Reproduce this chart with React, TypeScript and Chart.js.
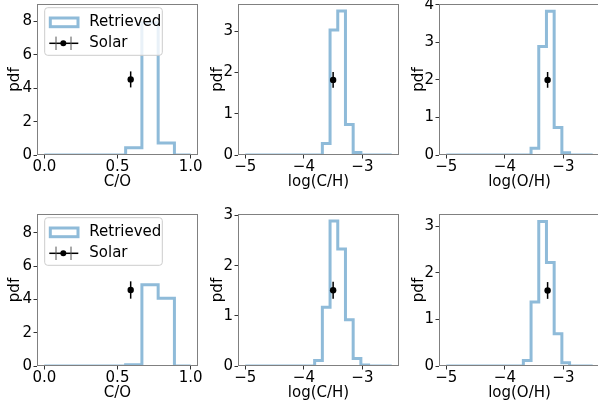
import React, { useEffect, useRef } from "react";
import { Chart, registerables } from "chart.js";

Chart.register(...registerables);

const FONT_FAMILY = '"DejaVu Sans", "Liberation Sans", sans-serif';
const HIST_COLOR = "#8fbbd9";
const SPINE_COLOR = "#808080";
const TICK_COLOR = "#333333";

// ---------------- data ----------------
const CO_EDGES = [0, 0.1111, 0.2222, 0.3333, 0.4444, 0.5556, 0.6667, 0.7778, 0.8889, 1.0];
const LOG_EDGES = [
  -5.0, -4.8684, -4.7368, -4.6053, -4.4737, -4.3421, -4.2105, -4.0789, -3.9474, -3.8158,
  -3.6842, -3.5526, -3.4211, -3.2895, -3.1579, -3.0263, -2.8947, -2.7632, -2.6316, -2.5,
];

const CO_PDF_TOP = [0, 0, 0, 0, 0, 0.43, 7.92, 0.72, 0];
const CH_PDF_TOP = [0, 0, 0, 0, 0, 0, 0, 0, 0, 0, 0.28, 3.03, 3.49, 0.74, 0.06, 0, 0, 0, 0];
const OH_PDF_TOP = [0, 0, 0, 0, 0, 0, 0, 0, 0, 0, 0, 0.18, 2.89, 3.83, 0.73, 0.06, 0, 0, 0];
const CO_PDF_BOTTOM = [0, 0, 0, 0, 0, 0.08, 4.88, 4.07, 0];
const CH_PDF_BOTTOM = [0, 0, 0, 0, 0, 0, 0, 0, 0, 0.11, 1.17, 2.89, 2.33, 0.92, 0.15, 0.02, 0, 0, 0];
const OH_PDF_BOTTOM = [0, 0, 0, 0, 0, 0, 0, 0, 0, 0, 0.12, 1.37, 3.1, 2.22, 0.69, 0.07, 0, 0, 0];

const SOLAR_X = [0.59, -3.5, -3.27];
const SOLAR_Y_TOP = [4.53, 1.82, 2.0];
const SOLAR_YERR_TOP = [0.48, 0.19, 0.21];
const SOLAR_Y_BOTTOM = [4.56, 1.51, 1.62];
const SOLAR_YERR_BOTTOM = [0.52, 0.17, 0.18];

const X_LABELS = ["C/O", "log(C/H)", "log(O/H)"];
const Y_LABEL = "pdf";
const LEGEND_LABELS = ["Retrieved", "Solar"];

const CO_X_TICKS = [0, 0.5, 1.0];
const LOG_X_TICKS = [-5, -4, -3];
const Y_TICKS_TOP = [[0, 2, 4, 6, 8], [0, 1, 2, 3], [0, 1, 2, 3, 4]];
const Y_TICKS_BOTTOM = [[0, 2, 4, 6, 8], [0, 1, 2, 3], [0, 1, 2, 3]];
const X_RANGES = [[-0.05, 1.05], [-5.125, -2.375], [-5.125, -2.375]];
const Y_MAX_TOP = [9.05, 3.66, 4.02];
const Y_MAX_BOTTOM = [9.12, 3.03, 3.26];

// ---------------- layout ----------------
const BOX_LEFT = [37, 238, 439];
const BOX_TOP = [3, 214];
const BOX_W = 161;
const BOX_H = 152;
const PAD_L = 37;
const PAD_T_ROW = [3, 14];
const PAD_R = 14;
const PAD_B = 45;
const CANVAS_W = PAD_L + BOX_W + PAD_R;
const YTITLE_PAD = [6, 7.7, 8.3];

const framePlugin = {
  id: "frame",
  afterDatasetsDraw(chart: any) {
    const { ctx, chartArea: a } = chart;
    ctx.save();
    ctx.strokeStyle = SPINE_COLOR;
    ctx.lineWidth = 1;
    ctx.strokeRect(a.left + 0.5, a.top + 0.5, a.right - a.left - 1, a.bottom - a.top - 1);
    ctx.restore();
  },
};

function makeLegendPlugin(show: boolean) {
  return {
    id: "mplLegend",
    afterDraw(chart: any) {
      if (!show) return;
      const { ctx, chartArea: a } = chart;
      const bx = a.left + 7.7;
      const by = a.top + 3.7;
      const bw = 117.6;
      const bh = 47.6;
      const r = 3;
      ctx.save();
      ctx.beginPath();
      ctx.moveTo(bx + r, by);
      ctx.arcTo(bx + bw, by, bx + bw, by + bh, r);
      ctx.arcTo(bx + bw, by + bh, bx, by + bh, r);
      ctx.arcTo(bx, by + bh, bx, by, r);
      ctx.arcTo(bx, by, bx + bw, by, r);
      ctx.closePath();
      ctx.fillStyle = "rgba(255,255,255,0.8)";
      ctx.fill();
      ctx.strokeStyle = "#cccccc";
      ctx.lineWidth = 1;
      ctx.stroke();

      // Retrieved patch
      ctx.strokeStyle = HIST_COLOR;
      ctx.lineWidth = 3;
      ctx.lineJoin = "miter";
      ctx.strokeRect(bx + 5.6, by + 10.3, 27.7, 8.7);

      // Solar errorbar symbol
      const ly = by + 35.6;
      ctx.strokeStyle = "#000";
      ctx.lineWidth = 1.5;
      ctx.beginPath();
      ctx.moveTo(bx + 4.6, ly);
      ctx.lineTo(bx + 33.6, ly);
      ctx.stroke();
      ctx.strokeStyle = "#555";
      ctx.lineWidth = 1;
      ctx.beginPath();
      ctx.moveTo(bx + 11.3, ly - 6.7);
      ctx.lineTo(bx + 11.3, ly + 6.7);
      ctx.moveTo(bx + 26.3, ly - 6.7);
      ctx.lineTo(bx + 26.3, ly + 6.7);
      ctx.stroke();
      ctx.fillStyle = "#000";
      ctx.beginPath();
      ctx.arc(bx + 18.6, ly, 3, 0, Math.PI * 2);
      ctx.fill();

      ctx.fillStyle = "#000";
      ctx.font = `15px ${FONT_FAMILY}`;
      ctx.textBaseline = "middle";
      ctx.textAlign = "left";
      ctx.fillText(LEGEND_LABELS[0], bx + 44.6, by + 14.3);
      ctx.fillText(LEGEND_LABELS[1], bx + 44.6, ly);
      ctx.restore();
    },
  };
}

function buildConfig(col: number, row: number): any {
  const edges = col === 0 ? CO_EDGES : LOG_EDGES;
  const values = [
    [CO_PDF_TOP, CH_PDF_TOP, OH_PDF_TOP],
    [CO_PDF_BOTTOM, CH_PDF_BOTTOM, OH_PDF_BOTTOM],
  ][row][col];
  const pts: { x: number; y: number }[] = [{ x: edges[0], y: 0 }];
  values.forEach((v, i) => {
    pts.push({ x: edges[i], y: v });
    pts.push({ x: edges[i + 1], y: v });
  });
  pts.push({ x: edges[edges.length - 1], y: 0 });

  const sx = SOLAR_X[col];
  const sy = row === 0 ? SOLAR_Y_TOP[col] : SOLAR_Y_BOTTOM[col];
  const se = row === 0 ? SOLAR_YERR_TOP[col] : SOLAR_YERR_BOTTOM[col];
  const xTicks = col === 0 ? CO_X_TICKS : LOG_X_TICKS;
  const yTicks = row === 0 ? Y_TICKS_TOP[col] : Y_TICKS_BOTTOM[col];
  const yMax = row === 0 ? Y_MAX_TOP[col] : Y_MAX_BOTTOM[col];
  const fmtX = (v: number) =>
    col === 0 ? Number(v).toFixed(1) : v < 0 ? "\u2212" + Math.abs(v) : String(v);
  const fmtY = (v: number) => (v < 0 ? "\u2212" + Math.abs(v) : String(v));

  const zeroPad = (s: any) => {
    s.paddingLeft = 0;
    s.paddingRight = 0;
    s.paddingTop = 0;
    s.paddingBottom = 0;
  };

  return {
    type: "scatter",
    data: {
      datasets: [
        {
          label: LEGEND_LABELS[1],
          data: [{ x: sx, y: sy }],
          pointRadius: 3.2,
          pointBackgroundColor: "#000",
          pointBorderColor: "#000",
          pointBorderWidth: 0,
          order: 0,
        },
        {
          label: LEGEND_LABELS[1] + " error",
          data: [
            { x: sx, y: sy - se },
            { x: sx, y: sy + se },
          ],
          showLine: true,
          pointRadius: 0,
          borderColor: "#000",
          borderWidth: 1.5,
          order: 1,
        },
        {
          label: LEGEND_LABELS[0],
          data: pts,
          showLine: true,
          pointRadius: 0,
          borderColor: HIST_COLOR,
          borderWidth: 3,
          borderJoinStyle: "miter",
          borderCapStyle: "butt",
          fill: false,
          clip: 0,
          order: 2,
        },
      ],
    },
    options: {
      responsive: false,
      animation: false,
      events: [],
      devicePixelRatio: 1,
      layout: { padding: { left: 0, top: PAD_T_ROW[row], right: PAD_R, bottom: 0 } },
      plugins: { legend: { display: false }, tooltip: { enabled: false } },
      scales: {
        x: {
          type: "linear",
          position: "bottom",
          min: X_RANGES[col][0],
          max: X_RANGES[col][1],
          afterBuildTicks: (s: any) => {
            s.ticks = xTicks.map((v) => ({ value: v }));
          },
          afterFit: (s: any) => {
            s.height = PAD_B;
            zeroPad(s);
          },
          grid: { drawOnChartArea: false, drawTicks: true, tickLength: 3.5, color: TICK_COLOR, lineWidth: 1 },
          border: { display: false },
          ticks: {
            callback: (v: any) => fmtX(Number(v)),
            color: "#000",
            font: { family: FONT_FAMILY, size: 15, lineHeight: 1 },
            padding: 1,
            maxRotation: 0,
            autoSkip: false,
          },
          title: {
            display: true,
            text: X_LABELS[col],
            color: "#000",
            font: { family: FONT_FAMILY, size: 15, lineHeight: 1.2 },
            padding: { top: 0, bottom: 9 },
          },
        },
        y: {
          type: "linear",
          position: "left",
          min: 0,
          max: yMax,
          afterBuildTicks: (s: any) => {
            s.ticks = yTicks.map((v) => ({ value: v }));
          },
          afterFit: (s: any) => {
            s.width = PAD_L;
            zeroPad(s);
          },
          grid: { drawOnChartArea: false, drawTicks: true, tickLength: 3.5, color: TICK_COLOR, lineWidth: 1 },
          border: { display: false },
          ticks: {
            callback: (v: any) => fmtY(Number(v)),
            color: "#000",
            font: { family: FONT_FAMILY, size: 15, lineHeight: 1 },
            padding: 1.5,
            autoSkip: false,
          },
          title: {
            display: true,
            text: Y_LABEL,
            color: "#000",
            font: { family: FONT_FAMILY, size: 15, lineHeight: 1.2 },
            padding: { top: YTITLE_PAD[col], bottom: 0 },
          },
        },
      },
    },
    plugins: [framePlugin, makeLegendPlugin(col === 0)],
  };
}

function Panel({ col, row }: { col: number; row: number }) {
  const ref = useRef<HTMLCanvasElement>(null);
  const padT = PAD_T_ROW[row];
  const canvasH = padT + BOX_H + PAD_B;
  useEffect(() => {
    const chart = new Chart(ref.current as HTMLCanvasElement, buildConfig(col, row));
    return () => chart.destroy();
  }, [col, row]);
  return (
    <canvas
      ref={ref}
      width={CANVAS_W}
      height={canvasH}
      style={{
        position: "absolute",
        left: BOX_LEFT[col] - PAD_L,
        top: BOX_TOP[row] - padT,
        width: CANVAS_W,
        height: canvasH,
      }}
    />
  );
}

export default function App() {
  const panels: { col: number; row: number }[] = [];
  for (let row = 0; row < 2; row++) for (let col = 0; col < 3; col++) panels.push({ col, row });
  return (
    <div
      style={{
        position: "fixed",
        left: 0,
        top: 0,
        width: 598,
        height: 407,
        overflow: "hidden",
        background: "#ffffff",
      }}
    >
      {panels.map((p) => (
        <Panel key={`${p.row}-${p.col}`} col={p.col} row={p.row} />
      ))}
    </div>
  );
}
